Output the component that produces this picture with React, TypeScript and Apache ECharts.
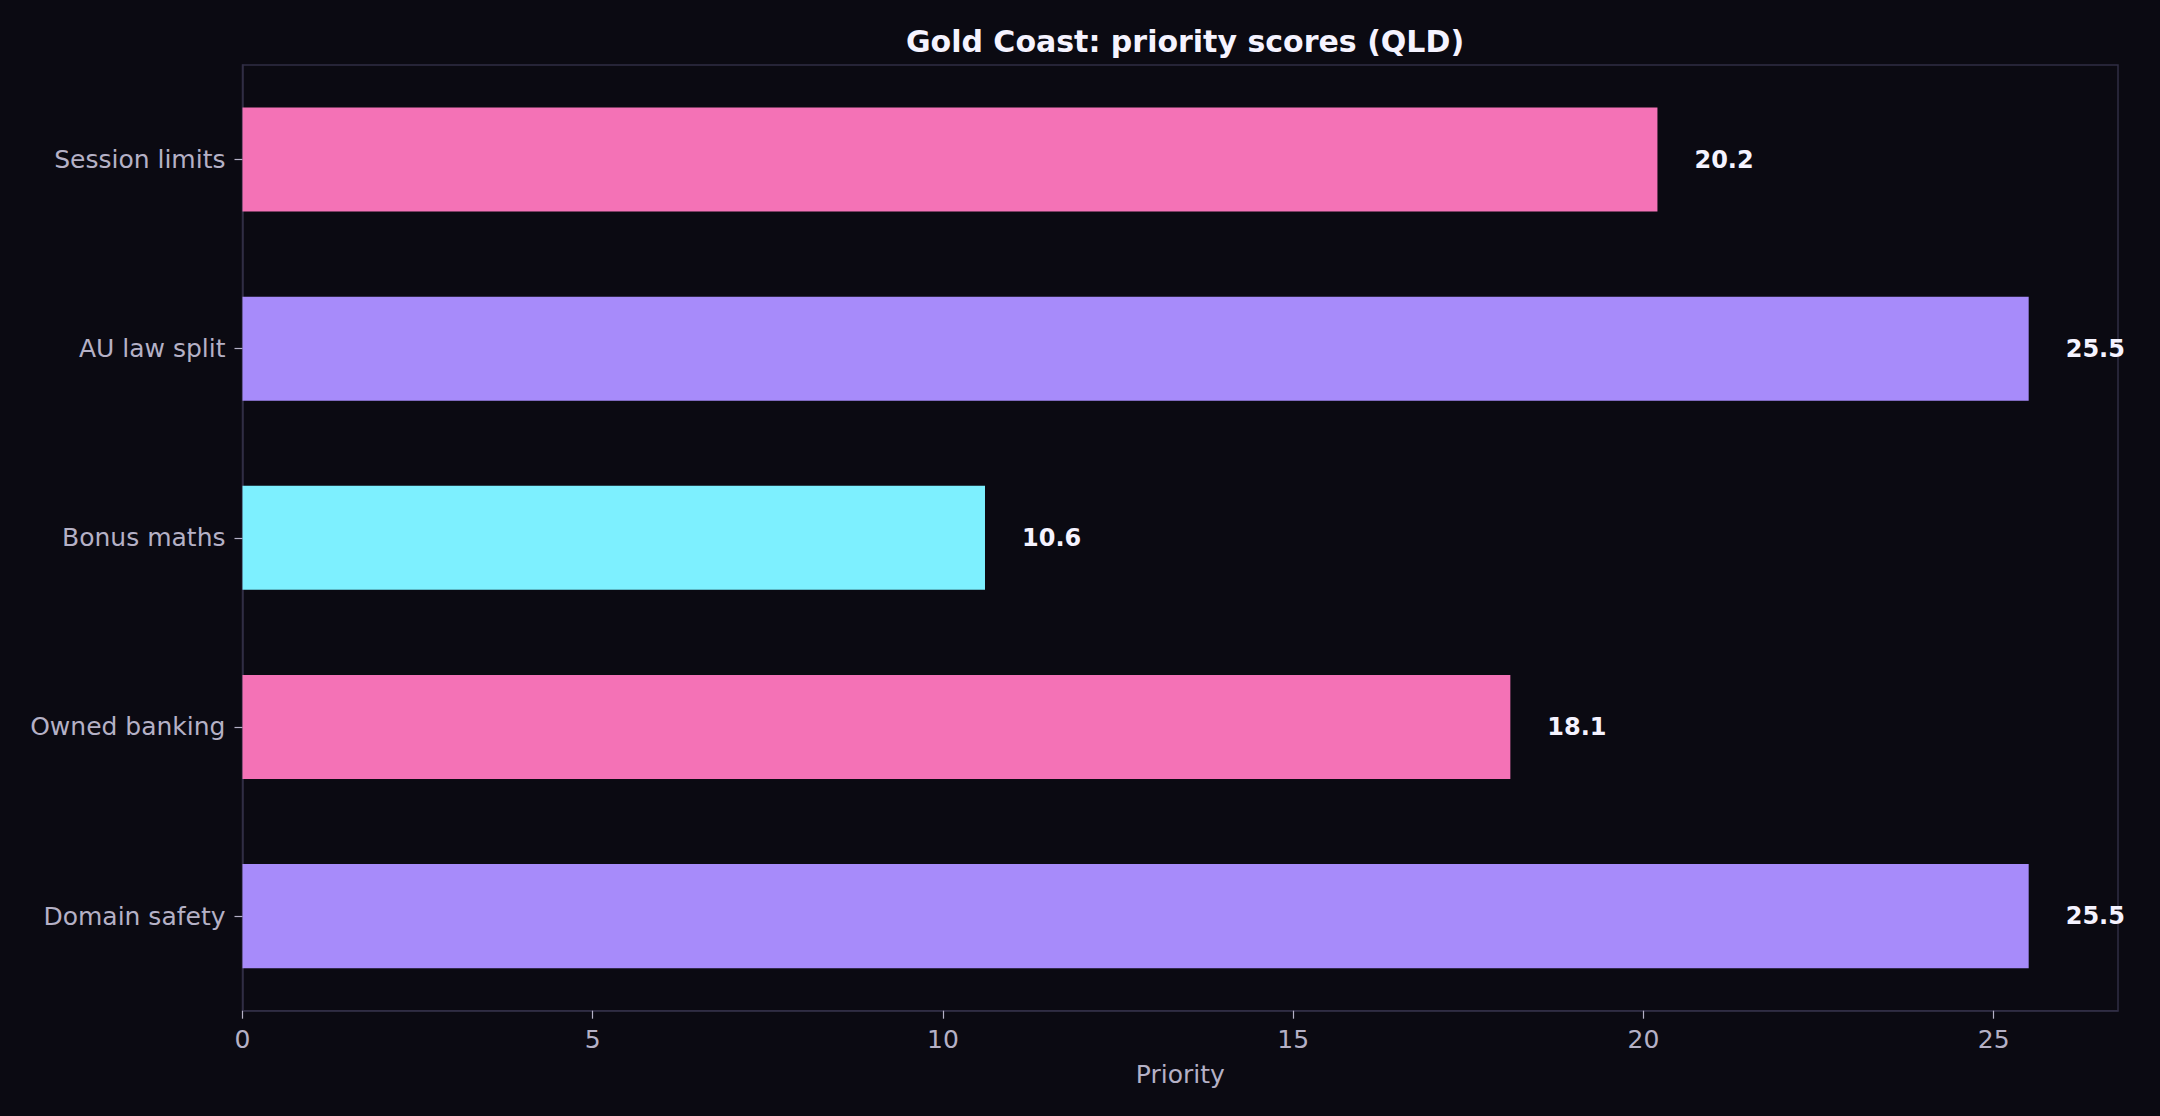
import React, { useEffect, useRef } from "react";
import * as echarts from "echarts";

const categories = ["Session limits", "AU law split", "Bonus maths", "Owned banking", "Domain safety"];
const values = [20.2, 25.5, 10.6, 18.1, 25.5];
const barColors = ["#f472b6", "#a78bfa", "#7df0ff", "#f472b6", "#a78bfa"];
const xTicks = [0, 5, 10, 15, 20, 25];
const xMax = 26.775;
const titleText = "Gold Coast: priority scores (QLD)";
const xName = "Priority";

export default function App() {
  const ref = useRef<HTMLDivElement>(null);
  useEffect(() => {
    document.body.style.margin = "0";
    const chart = echarts.init(ref.current!, null, { renderer: "svg" });
    const font = "DejaVu Sans";
    chart.setOption({
      animation: false,
      backgroundColor: "#0b0a12",
      title: {
        text: titleText,
        left: 1180,
        textAlign: "center",
        top: 21,
        textStyle: { color: "#f5f3ff", fontSize: 30, fontWeight: "bold", fontFamily: font },
      },
      grid: {
        left: 242.5,
        right: 42,
        top: 65,
        bottom: 105.3,
        show: true,
        borderColor: "#302e44",
        borderWidth: 1.5,
        backgroundColor: "transparent",
      },
      xAxis: {
        type: "value",
        min: 0,
        max: xMax,
        interval: 5,
        name: xName,
        nameLocation: "middle",
        nameGap: 51,
        nameTextStyle: { color: "#b5b1c6", fontSize: 25, fontFamily: font },
        axisLine: { show: true, lineStyle: { color: "#302e44", width: 1.5 } },
        axisTick: { show: true, length: 8, lineStyle: { color: "#b5b1c6", width: 1.2 }, customValues: xTicks },
        axisLabel: { color: "#b5b1c6", fontSize: 25, fontFamily: font, margin: 16, customValues: xTicks },
        splitLine: { show: false },
      },
      yAxis: {
        type: "category",
        data: categories,
        inverse: true,
        axisLine: { show: true, lineStyle: { color: "#302e44", width: 1.5 } },
        axisTick: { show: true, length: 8, alignWithLabel: true, lineStyle: { color: "#b5b1c6", width: 1.2 } },
        axisLabel: { color: "#b5b1c6", fontSize: 25, fontFamily: font, margin: 17, padding: [3, 0, 0, 0] },
        splitLine: { show: false },
      },
      series: [
        {
          type: "bar",
          barWidth: "55%",
          data: values.map((v, i) => ({ value: v, itemStyle: { color: barColors[i] } })),
          label: {
            show: true,
            position: "right",
            distance: 37,
            color: "#f5f3ff",
            fontSize: 24,
            fontWeight: "bold",
            fontFamily: font,
            formatter: (p: any) => Number(p.value).toFixed(1),
          },
        },
      ],
    });
    return () => chart.dispose();
  }, []);
  return <div ref={ref} style={{ width: 2160, height: 1116 }} />;
}
